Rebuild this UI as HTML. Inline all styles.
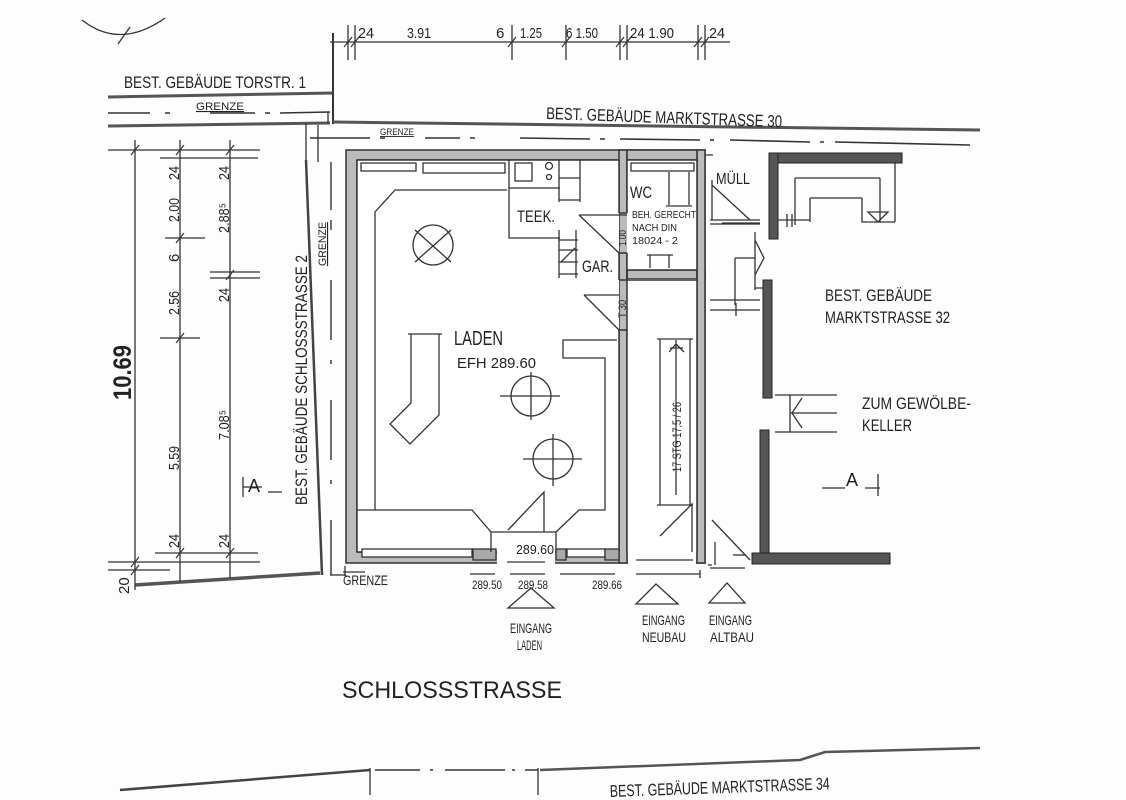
<!DOCTYPE html>
<html><head><meta charset="utf-8">
<style>
html,body{margin:0;padding:0;background:#fff;}
svg{display:block;}
text{font-family:"Liberation Sans Narrow","Liberation Sans",sans-serif;fill:#222;}
</style></head>
<body>
<svg width="1126" height="800" viewBox="0 0 1126 800" xmlns="http://www.w3.org/2000/svg">
<rect width="1126" height="800" fill="#fdfdfd"/>
<g stroke="#333" stroke-width="1.3" fill="none">
<path d="M82 20 Q120 50 165 18"/><line x1="130" y1="27" x2="118" y2="44"/>
<line x1="330" y1="42" x2="730" y2="42"/>
<line x1="333" y1="33" x2="333" y2="100" stroke-width="2"/>
<line x1="348" y1="25" x2="348" y2="60"/><line x1="355" y1="25" x2="355" y2="60"/>
<line x1="512" y1="25" x2="512" y2="60"/><line x1="566" y1="25" x2="566" y2="60"/>
<line x1="620" y1="25" x2="620" y2="60"/><line x1="627" y1="25" x2="627" y2="60"/>
<line x1="698" y1="25" x2="698" y2="60"/><line x1="705" y1="25" x2="705" y2="60"/>
<g stroke-width="1.2"><line x1="344" y1="47" x2="352" y2="37"/><line x1="351" y1="47" x2="359" y2="37"/>
<line x1="508" y1="47" x2="516" y2="37"/><line x1="562" y1="47" x2="570" y2="37"/>
<line x1="616" y1="47" x2="624" y2="37"/><line x1="623" y1="47" x2="631" y2="37"/>
<line x1="694" y1="47" x2="702" y2="37"/><line x1="701" y1="47" x2="709" y2="37"/></g>
<path d="M108 97 L333 93" stroke-width="3" stroke="#555"/>
<path d="M333 93 L333 124" stroke-width="2"/>
<path d="M108 113 L150 113 M165 113 L170 113 M210 113 L255 113 M265 113 L270 113 M280 113 L330 112" stroke-width="1.5"/>
<path d="M108 126 L330 123" stroke-width="3" stroke="#555"/>
<path d="M333 122 L980 130" stroke-width="3" stroke="#555"/>
<path d="M328 112 L328 124"/>
<path d="M306 123 L306 162 M318 125 L318 162"/>
<path d="M310 138 L370 138 M380 138 L385 138 M425 138 L460 138 M470 138 L475 138 M520 138 L590 139 M600 139 L605 139 M620 139 L700 140 M710 140 L714 140 M730 140 L810 142 M820 142 L824 142 M835 142 L970 145" stroke-width="1.6"/>
<path d="M306 160 L322 575" stroke-width="2.5" stroke="#444"/>
<path d="M331 162 L331 210 M331 220 L331 230 M331 280 L331 340 M331 360 L331 364 M331 400 L331 460 M331 480 L331 484 M331 520 L331 575" stroke-width="1.4"/>
<path d="M330 575 L346 575"/>
<path d="M135 585 L320 573" stroke-width="3.5" stroke="#555"/>
<line x1="135" y1="140" x2="135" y2="590"/>
<line x1="180" y1="140" x2="180" y2="582"/>
<line x1="230" y1="140" x2="230" y2="578"/>
<line x1="108" y1="150" x2="260" y2="150"/>
<line x1="160" y1="158" x2="258" y2="158"/>
<line x1="165" y1="238" x2="205" y2="238"/>
<line x1="210" y1="272" x2="260" y2="272"/><line x1="210" y1="278" x2="260" y2="278"/>
<line x1="160" y1="338" x2="200" y2="338"/>
<line x1="155" y1="553" x2="258" y2="553"/>
<line x1="108" y1="562" x2="260" y2="562"/>
<line x1="108" y1="570" x2="170" y2="570"/>
<g stroke-width="1.2"><line x1="131" y1="155" x2="139" y2="145"/><line x1="176" y1="155" x2="184" y2="145"/><line x1="226" y1="155" x2="234" y2="145"/>
<line x1="176" y1="243" x2="184" y2="233"/><line x1="226" y1="280" x2="234" y2="270"/><line x1="176" y1="343" x2="184" y2="333"/>
<line x1="176" y1="558" x2="184" y2="548"/><line x1="226" y1="558" x2="234" y2="548"/><line x1="131" y1="567" x2="139" y2="557"/><line x1="131" y1="575" x2="139" y2="565"/></g>
<path d="M243 477 L243 497 M243 487 L262 487 M268 492 L282 492"/>
<g fill="#bbb" stroke="#333" stroke-width="1.5">
<path d="M346 150 L705 150 L705 563 L346 563 Z M357 160 L357 552 L619 552 L619 160 Z" fill-rule="evenodd"/>
<rect x="619" y="150" width="8" height="63"/>
<rect x="619" y="253" width="8" height="27"/>
<rect x="619" y="330" width="8" height="233"/>
<rect x="627" y="270" width="78" height="9"/>
<rect x="697" y="150" width="8" height="413"/>
<rect x="627" y="150" width="70" height="10"/>
</g>
<rect x="357" y="160" width="262" height="392" fill="#fff" stroke="none"/>
<rect x="627" y="279" width="70" height="273" fill="#fff" stroke="none"/>
<rect x="627" y="160" width="70" height="110" fill="#fff" stroke="none"/>
<g stroke="#333" stroke-width="1.5" fill="none">
<path d="M357 160 L357 552 M357 160 L619 160 M357 552 L619 552"/>
<path d="M619 160 L619 213 M627 160 L627 213 M619 253 L619 280 M627 253 L627 280 M619 330 L619 552 M627 280 L627 552 M627 270 L697 270 M627 280 L697 280 M697 160 L697 552 M627 160 L697 160"/>
</g>
<rect x="361" y="163" width="55" height="8"/>
<rect x="423" y="163" width="82" height="10"/>
<rect x="631" y="163" width="63" height="8"/>
<rect x="362" y="549" width="110" height="8" fill="#fff"/>
<rect x="473" y="549" width="23" height="11" fill="#aaa"/>
<rect x="497" y="548" width="58" height="18" fill="#fff" stroke="none"/>
<rect x="556" y="549" width="10" height="11" fill="#aaa"/>
<rect x="567" y="549" width="38" height="8" fill="#fff"/>
<rect x="605" y="549" width="14" height="11" fill="#aaa"/>
<rect x="628" y="548" width="68" height="16" fill="#fff" stroke="none"/>
<line x1="636" y1="560" x2="693" y2="560"/>
<line x1="507" y1="562" x2="545" y2="562"/>
<path d="M375 212 L375 510 M375 212 L395 190 L507 190"/>
<path d="M357 510 L472 510 L491 532 L491 552 M491 532 L556 532 L556 552 M556 532 L579 510 L605 510 L605 358 L563 358 L563 340 L617 340"/>
<path d="M508 530 L544 492 L544 532"/>
<path d="M509 160 L509 238 L560 238 M509 188 L560 188"/>
<rect x="515" y="163" width="17" height="18"/><circle cx="549" cy="166" r="3.5"/><circle cx="549" cy="177" r="2.5"/>
<path d="M559 160 L559 202 M559 178 L580 178 M559 200 L580 200 M580 160 L580 202"/>
<path d="M559 230 L559 278 M576 230 L576 278 M559 240 L578 240 M559 250 L578 250 M559 262 L578 262 M559 274 L578 274 M561 262 L575 248"/>
<path d="M579 215 L619 253 M579 215 L627 215"/>
<path d="M584 295 L619 330 M584 295 L619 295"/>
<circle cx="433" cy="245" r="20"/><path d="M415 230 L451 262 M451 230 L415 262"/>
<circle cx="531" cy="396" r="20"/><path d="M500 396 L560 396 M531 372 L531 420"/>
<circle cx="553" cy="459" r="20"/><path d="M523 459 L582 459 M553 434 L553 486"/>
<path d="M411 334 L411 403 L390 424 L410 444 L439 415 L439 334 M408 334 L442 334"/>
<path d="M669 172 L669 205 M689 172 L689 205 M666 206 L692 206 M650 255 L650 268 M669 255 L669 268 M647 255 L673 255"/>
<path d="M660 339 L660 505 M690 339 L690 505 M657 339 L693 339 M657 505 L693 505 M676 340 L676 495 M669 352 L676 344 L684 352 M670 348 L683 348"/>
<path d="M660 536 L692 504 L692 552"/>
<path d="M712 520 L750 560"/>
<path d="M705 155 L713 155 M712 180 L712 220 M712 185 L750 220 M710 220 L760 220 M710 224 L760 224 M722 223 L760 223"/>
<path d="M755 232 L755 290 M755 240 L764 258 L755 275 M735 258 L755 258 M735 258 L735 305 M755 288 L766 288"/>
<path d="M710 300 L760 300 M710 310 L760 310 M736 303 L736 316"/>
<path d="M715 542 L715 565 M710 568 L745 568 M708 565 L712 565"/>
</g>
<g fill="#555" stroke="#222" stroke-width="1">
<rect x="770" y="153" width="132" height="10"/>
<rect x="769" y="153" width="9" height="86"/>
<rect x="763" y="280" width="9" height="118"/>
<rect x="760" y="430" width="9" height="126"/>
<rect x="752" y="553" width="138" height="11"/>
</g>
<g stroke="#333" stroke-width="1.3" fill="none">
<path d="M795 178 L880 178 M795 178 L795 225 M810 198 L862 198 M810 198 L810 222 M862 198 L862 222 L895 222 M880 178 L880 222 M895 162 L895 222 M868 212 L888 212 L878 222 Z"/>
<path d="M778 220 L810 220 M787 214 L787 227 M792 214 L792 227"/>
<path d="M775 395 L837 395 M775 432 L837 432 M790 395 L790 432 M790 413 L837 413 M802 398 L792 413 L802 428"/>
<path d="M822 488 L845 488 M865 488 L880 488 M878 474 L878 496"/>
<path d="M733 555 L745 555"/>
<path d="M343 572 L365 572 M345 566 L345 576 M470 574 L495 574 M510 574 L545 574 M560 574 L615 574 M636 574 L700 574 M700 570 L700 578"/>
<path d="M508 608 L531 588 L554 608 Z M636 604 L656 584 L678 604 Z M709 603 L727 583 L745 603 Z"/>
<path d="M120 790 L370 770" stroke-width="2.5" stroke="#444"/>
<path d="M370 768 L370 795 M538 768 L538 795"/>
<path d="M375 770 L420 770 M430 770 L433 770 M445 770 L505 770 M512 770 L515 770 M525 770 L538 770" stroke-width="1.5"/>
<path d="M540 770 L800 760 L825 752 L980 748" stroke-width="2.5" stroke="#555"/>
</g>
<g>
<text x="358" y="38" font-size="15" textLength="16" lengthAdjust="spacingAndGlyphs">24</text>
<text x="407" y="38" font-size="15" textLength="24" lengthAdjust="spacingAndGlyphs">3.91</text>
<text x="496" y="38" font-size="15">6</text>
<text x="520" y="38" font-size="15" textLength="22" lengthAdjust="spacingAndGlyphs">1.25</text>
<text x="566" y="38" font-size="15" textLength="32" lengthAdjust="spacingAndGlyphs">6 1.50</text>
<text x="630" y="38" font-size="15" textLength="44" lengthAdjust="spacingAndGlyphs">24 1.90</text>
<text x="709" y="38" font-size="15" textLength="16" lengthAdjust="spacingAndGlyphs">24</text>
<text x="124" y="88" font-size="17" textLength="182" lengthAdjust="spacingAndGlyphs">BEST. GEBÄUDE TORSTR. 1</text>
<text x="196" y="110" font-size="11" text-decoration="underline" textLength="48" lengthAdjust="spacingAndGlyphs">GRENZE</text>
<text x="546" y="119" font-size="17" transform="rotate(2 546 118)" textLength="236" lengthAdjust="spacingAndGlyphs">BEST. GEBÄUDE MARKTSTRASSE 30</text>
<text x="380" y="135" font-size="9" text-decoration="underline" textLength="34" lengthAdjust="spacingAndGlyphs">GRENZE</text>
<text x="0" y="0" font-size="25" font-weight="bold" transform="translate(131 400) rotate(-90)" textLength="55" lengthAdjust="spacingAndGlyphs">10.69</text>
<g transform="rotate(-90)">
<text x="-180" y="179" font-size="15" textLength="14" lengthAdjust="spacingAndGlyphs">24</text>
<text x="-222" y="179" font-size="15" textLength="24" lengthAdjust="spacingAndGlyphs">2.00</text>
<text x="-262" y="179" font-size="15">6</text>
<text x="-315" y="179" font-size="15" textLength="24" lengthAdjust="spacingAndGlyphs">2.56</text>
<text x="-470" y="179" font-size="15" textLength="24" lengthAdjust="spacingAndGlyphs">5.59</text>
<text x="-548" y="179" font-size="15" textLength="14" lengthAdjust="spacingAndGlyphs">24</text>
<text x="-180" y="229" font-size="15" textLength="14" lengthAdjust="spacingAndGlyphs">24</text>
<text x="-233" y="229" font-size="15" textLength="30" lengthAdjust="spacingAndGlyphs">2.88⁵</text>
<text x="-302" y="229" font-size="15" textLength="14" lengthAdjust="spacingAndGlyphs">24</text>
<text x="-440" y="229" font-size="15" textLength="30" lengthAdjust="spacingAndGlyphs">7.08⁵</text>
<text x="-548" y="229" font-size="15" textLength="14" lengthAdjust="spacingAndGlyphs">24</text>
<text x="-594" y="129" font-size="15">20</text>
<text x="-505" y="307" font-size="17" textLength="250" lengthAdjust="spacingAndGlyphs">BEST. GEBÄUDE SCHLOSSSTRASSE 2</text>
<text x="-266" y="326" font-size="11" text-decoration="underline" textLength="44" lengthAdjust="spacingAndGlyphs">GRENZE</text>
<text x="-246" y="626" font-size="10" textLength="16" lengthAdjust="spacingAndGlyphs">1.00</text>
<text x="-318" y="626" font-size="11" textLength="18" lengthAdjust="spacingAndGlyphs">T 30</text>
<text x="-472" y="681" font-size="12" textLength="70" lengthAdjust="spacingAndGlyphs">17 STG 17,5 / 26</text>
</g>
<text x="248" y="492" font-size="18">A</text>
<text x="517" y="222" font-size="17" textLength="38" lengthAdjust="spacingAndGlyphs">TEEK.</text>
<text x="582" y="272" font-size="17" textLength="31" lengthAdjust="spacingAndGlyphs">GAR.</text>
<text x="630" y="198" font-size="17" textLength="22" lengthAdjust="spacingAndGlyphs">WC</text>
<text x="632" y="218" font-size="10" textLength="64" lengthAdjust="spacingAndGlyphs">BEH. GERECHT</text>
<text x="632" y="231" font-size="10" textLength="45" lengthAdjust="spacingAndGlyphs">NACH DIN</text>
<text x="632" y="244" font-size="10" textLength="46" lengthAdjust="spacingAndGlyphs">18024 - 2</text>
<text x="454" y="345" font-size="20" textLength="49" lengthAdjust="spacingAndGlyphs">LADEN</text>
<text x="457" y="368" font-size="15" textLength="79" lengthAdjust="spacingAndGlyphs">EFH  289.60</text>
<text x="516" y="554" font-size="13" textLength="38" lengthAdjust="spacingAndGlyphs">289.60</text>
<text x="716" y="184" font-size="16" textLength="34" lengthAdjust="spacingAndGlyphs">MÜLL</text>
<text x="825" y="301" font-size="17" textLength="107" lengthAdjust="spacingAndGlyphs">BEST. GEBÄUDE</text>
<text x="825" y="323" font-size="17" textLength="125" lengthAdjust="spacingAndGlyphs">MARKTSTRASSE 32</text>
<text x="862" y="409" font-size="17" textLength="109" lengthAdjust="spacingAndGlyphs">ZUM GEWÖLBE-</text>
<text x="862" y="431" font-size="17" textLength="50" lengthAdjust="spacingAndGlyphs">KELLER</text>
<text x="846" y="486" font-size="18">A</text>
<text x="343" y="585" font-size="14" textLength="45" lengthAdjust="spacingAndGlyphs">GRENZE</text>
<text x="472" y="589" font-size="12" textLength="30" lengthAdjust="spacingAndGlyphs">289.50</text>
<text x="518" y="589" font-size="12" textLength="30" lengthAdjust="spacingAndGlyphs">289.58</text>
<text x="592" y="589" font-size="12" textLength="30" lengthAdjust="spacingAndGlyphs">289.66</text>
<text x="510" y="633" font-size="14" textLength="42" lengthAdjust="spacingAndGlyphs">EINGANG</text>
<text x="517" y="650" font-size="14" textLength="25" lengthAdjust="spacingAndGlyphs">LADEN</text>
<text x="642" y="625" font-size="14" textLength="43" lengthAdjust="spacingAndGlyphs">EINGANG</text>
<text x="642" y="642" font-size="14" textLength="44" lengthAdjust="spacingAndGlyphs">NEUBAU</text>
<text x="709" y="625" font-size="14" textLength="43" lengthAdjust="spacingAndGlyphs">EINGANG</text>
<text x="710" y="642" font-size="14" textLength="44" lengthAdjust="spacingAndGlyphs">ALTBAU</text>
<text x="342" y="698" font-size="24" textLength="220" lengthAdjust="spacingAndGlyphs">SCHLOSSSTRASSE</text>
<text x="610" y="797" font-size="17" transform="rotate(-2 610 796)" textLength="220" lengthAdjust="spacingAndGlyphs">BEST. GEBÄUDE MARKTSTRASSE 34</text>
</g>
</svg>
</body></html>
